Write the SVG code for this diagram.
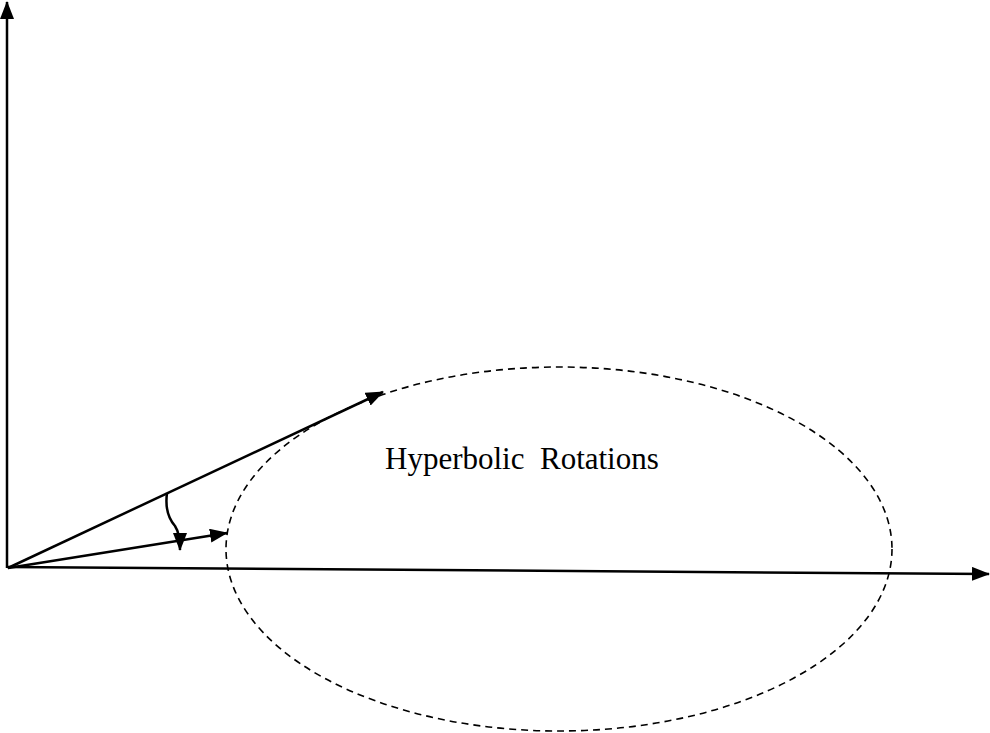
<svg xmlns="http://www.w3.org/2000/svg" width="990" height="733" viewBox="0 0 990 733">
<style>
.ln{stroke:#000;stroke-width:2.5;fill:none}
.dash{stroke:#000;stroke-width:1.6;fill:none;stroke-dasharray:7 5}
.lbl{font-family:"Liberation Serif","Times New Roman",serif;font-size:31px;fill:#000;white-space:pre}
</style>
<defs>
<marker id="ah" markerUnits="userSpaceOnUse" markerWidth="18" markerHeight="14" refX="17" refY="7" orient="auto">
<path d="M0,0 L18,7 L0,14 Z" fill="#000"/>
</marker>
</defs>
<g id="region">
<ellipse class="dash" cx="559" cy="549" rx="333" ry="182"/>
<text class="lbl" x="385" y="469" xml:space="preserve">Hyperbolic  Rotations</text>
</g>
<g id="connectors">
<line id="y-axis" class="ln" x1="7" y1="568" x2="7" y2="2" marker-end="url(#ah)"/>
<line id="x-axis" class="ln" x1="7" y1="567" x2="989" y2="574" marker-end="url(#ah)"/>
<line id="vec-upper" class="ln" x1="8" y1="568" x2="383" y2="392" marker-end="url(#ah)"/>
<line id="vec-lower" class="ln" x1="8" y1="568" x2="227" y2="533" marker-end="url(#ah)"/>
<path id="angle" class="ln" d="M167,493 C165,508 168,518 175,526 C179,532 180,540 180,550" marker-end="url(#ah)"/>
</g>
</svg>
